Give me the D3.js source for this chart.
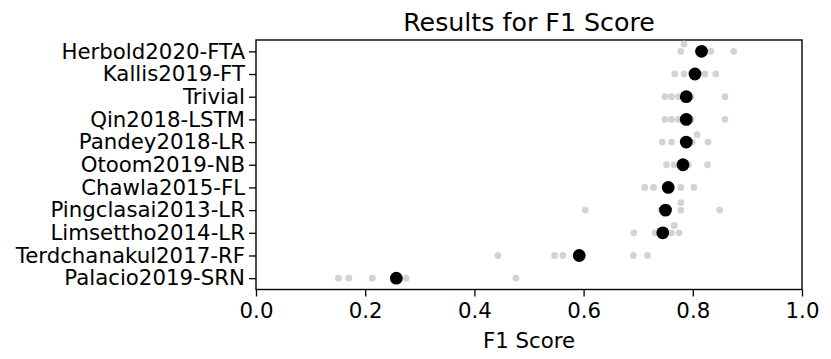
<!DOCTYPE html>
<html lang="en">
<head>
  <meta charset="UTF-8" />
  <title>Results for F1 Score</title>
  <script src="https://d3js.org/d3.v7.min.js"></script>
  <style>
    body {margin: 0; background: #fff;}
    svg {display: block; font-family: "DejaVu Sans", sans-serif;}
  </style>
</head>
<body>
<script>
  // methods, top to bottom
  const methods = ["Herbold2020-FTA", "Kallis2019-FT", "Trivial", "Qin2018-LSTM", "Pandey2018-LR",
                   "Otoom2019-NB", "Chawla2015-FL", "Pingclasai2013-LR", "Limsettho2014-LR",
                   "Terdchanakul2017-RF", "Palacio2019-SRN"];

  // single F1 results per method (grey dots)
  const runScores = [
    [0.778, 0.784, 0.815, 0.833, 0.875],
    [0.767, 0.784, 0.805, 0.822, 0.842],
    [0.749, 0.761, 0.774, 0.797, 0.859],
    [0.749, 0.761, 0.774, 0.797, 0.859],
    [0.744, 0.761, 0.799, 0.808, 0.828],
    [0.752, 0.766, 0.779, 0.792, 0.827],
    [0.712, 0.728, 0.755, 0.778, 0.802],
    [0.603, 0.742, 0.778, 0.778, 0.849],
    [0.692, 0.731, 0.761, 0.766, 0.775],
    [0.443, 0.547, 0.562, 0.691, 0.717],
    [0.151, 0.170, 0.213, 0.275, 0.476]
  ];

  // mean F1 per method (black dots)
  const meanScores = [0.816, 0.804, 0.788, 0.788, 0.788, 0.782, 0.755, 0.750, 0.745, 0.592, 0.257];

  const xTicks = [0, 0.2, 0.4, 0.6, 0.8, 1.0];

  const width = 831, height = 359;
  const plotLeft = 256, plotRight = 802, plotTop = 40, plotBottom = 289.5;

  const svg = d3.select("body").append("svg")
                .attr("width", width)
                .attr("height", height);

  const xScale = d3.scaleLinear().domain([0, 1]).range([plotLeft, plotRight]);
  const yScale = d3.scaleLinear().domain([-0.5, methods.length - 0.5]).range([plotTop, plotBottom]);

  // axes
  const xAxis = d3.axisBottom(xScale).tickValues(xTicks).tickFormat(d3.format(".1f"))
                  .tickSize(7).tickPadding(6);
  const yAxis = d3.axisLeft(yScale).tickValues(d3.range(methods.length))
                  .tickFormat(i => methods[i]).tickSize(7).tickPadding(4);

  const gx = svg.append("g").attr("transform", `translate(0, ${plotBottom})`).call(xAxis);
  const gy = svg.append("g").attr("transform", `translate(${plotLeft}, 0)`).call(yAxis);

  [gx, gy].forEach(g => {
    g.select(".domain").remove();
    g.selectAll("line").attr("stroke", "#000").attr("stroke-width", 1.3);
    g.selectAll("text").attr("font-size", "21.3px").attr("fill", "#000")
     .attr("font-family", "DejaVu Sans");
  });

  // frame
  svg.append("rect")
     .attr("x", plotLeft).attr("y", plotTop)
     .attr("width", plotRight - plotLeft).attr("height", plotBottom - plotTop)
     .attr("fill", "none").attr("stroke", "#000").attr("stroke-width", 1.4);

  // grey dots, pushed up when they would overlap a dot already placed
  const greyR = 3.4, step = 7.4;
  const points = [];
  runScores.forEach((row, i) => {
    const placed = [];
    row.forEach(v => {
      const px = xScale(v);
      let dy = 0;
      while (placed.some(p => Math.hypot(p.px - px, p.dy - dy) < 6)) dy -= step;
      placed.push({px, dy});
      points.push({row: i, value: v, dy});
    });
  });

  svg.append("g").selectAll("circle")
     .data(points)
     .join("circle")
     .attr("cx", d => xScale(d.value))
     .attr("cy", d => yScale(d.row) + d.dy)
     .attr("r", greyR)
     .attr("fill", "#d3d3d3");

  svg.append("g").selectAll("circle")
     .data(meanScores)
     .join("circle")
     .attr("cx", d => xScale(d))
     .attr("cy", (d, i) => yScale(i))
     .attr("r", 6.4)
     .attr("fill", "#000");

  // title and x label
  svg.append("text")
     .attr("x", (plotLeft + plotRight) / 2).attr("y", 30.5)
     .attr("text-anchor", "middle")
     .attr("font-size", "25.3px")
     .text("Results for F1 Score");

  svg.append("text")
     .attr("x", (plotLeft + plotRight) / 2).attr("y", 348)
     .attr("text-anchor", "middle")
     .attr("font-size", "21.3px")
     .text("F1 Score");
</script>
</body>
</html>
